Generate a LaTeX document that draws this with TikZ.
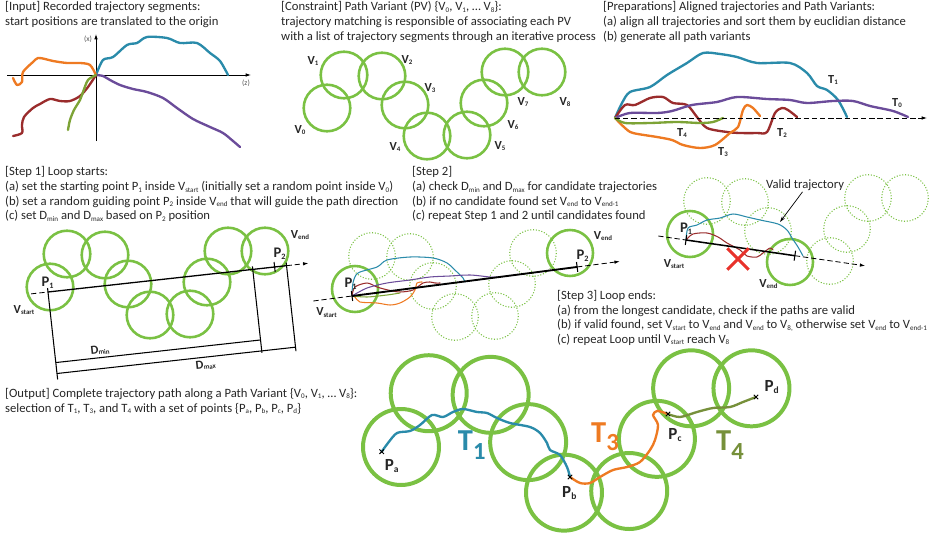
\documentclass[tikz,border=0pt]{standalone}
\usepackage{fontspec}
\setmainfont{Carlito}
\usetikzlibrary{arrows.meta,shapes.misc}
\definecolor{LabelInk}{HTML}{262626}
\definecolor{RingGreen}{HTML}{7AC143}
\definecolor{TrajTeal}{HTML}{2A8BAA}
\definecolor{TrajOrange}{HTML}{EE7A22}
\definecolor{TrajRed}{HTML}{9A2C2C}
\definecolor{TrajPurple}{HTML}{6B4C9A}
\definecolor{TrajGreen}{HTML}{7DA336}
\definecolor{TrajOlive}{HTML}{76903A}
\definecolor{CrossRed}{HTML}{E8322B}
\definecolor{AxisGrey}{HTML}{555555}
\makeatletter
\newcommand{\Lo}[1]{\raisebox{-0.25ex}{\fontsize{\fpeval{0.56*\f@size}}{1}\selectfont #1}}
\makeatother
\newcommand{\BigLo}[1]{\raisebox{-0.28em}{\fontsize{21}{21}\selectfont #1}}
% offsets of V0 ... V8 inside one path variant
\newcommand{\VariantShift}{0/0,17/-33,55/-32,78/-3,100/28,140/27,157/-5,178/-36,215/-36}
\tikzset{
  ring/.style={draw=RingGreen,line width=2.2pt},
  ghostring/.style={draw=RingGreen,line width=0.9pt,dash pattern=on 0.9pt off 1.5pt},
  bigring/.style={draw=RingGreen,line width=3.4pt},
  traj/.style={line width=2pt,line join=round,line cap=round},
  thintraj/.style={line width=0.9pt,line join=round,line cap=round},
  blurb/.style={anchor=north west,inner sep=0pt,align=left,font=\fontsize{10.8}{12.5}\selectfont},
  vlabel/.style={font=\bfseries\fontsize{10.5}{11}\selectfont,inner sep=0pt},
  plabel/.style={font=\bfseries\fontsize{12.5}{13}\selectfont,inner sep=0pt},
  outlabel/.style={font=\bfseries\fontsize{14.5}{15}\selectfont,inner sep=0pt},
  biglabel/.style={font=\bfseries\fontsize{26}{28}\selectfont,inner sep=0pt},
  axisline/.style={line width=0.7pt},
  guide/.style={line width=0.7pt,dash pattern=on 4.5pt off 2.5pt},
  tick/.style={line width=0.9pt},
  tip/.style={-{Latex[length=4.5pt,width=3pt]}},
  xmark/.style={cross out,draw=black,line width=0.8pt,minimum size=3pt,inner sep=0pt},
}

\begin{document}
\begin{tikzpicture}[x=0.03cm,y=-0.03cm,text=LabelInk]
\useasboundingbox (0,0) rectangle (929,534);

% [Input]
\node[blurb] (inputtxt) at (5,1.5)
  {[Input] Recorded trajectory segments:\\start positions are translated to the origin};
\coordinate (o) at (96,75);
\draw[axisline,tip] (7,75) -- (251,75);
\draw[axisline,tip] (96,141) -- (96,34);
\node[font=\fontsize{6.5}{7}\selectfont,text=AxisGrey] (xlab) at (88,39) {(x)};
\node[font=\fontsize{6.5}{7}\selectfont,text=AxisGrey] (zlab) at (246,83) {(z)};
\draw[traj,TrajTeal] plot[smooth,tension=0.5] coordinates
  {(o) (103,60) (113,57) (127,45) (137,43) (147,37) (167,38) (180,43) (197,43) (210,53) (220,61) (228,75)};
\draw[traj,TrajOrange] plot[smooth,tension=0.5] coordinates
  {(o) (90,65) (80,63) (67,63) (53,61) (45,59) (38,58) (33,62) (23,72) (22,82) (17,85) (13,78)};
\draw[traj,TrajPurple] plot[smooth,tension=0.5] coordinates
  {(o) (103,76) (110,80) (120,85) (133,89) (147,92) (163,98) (177,108) (193,119) (210,127) (223,133) (233,141) (240,147)};
\draw[traj,TrajRed] plot[smooth,tension=0.5] coordinates
  {(o) (88,87) (80,96) (70,101) (60,101) (50,99) (40,104) (33,108) (24,117) (22,125) (22,133) (13,136)};
\draw[traj,TrajGreen] plot[smooth,tension=0.5] coordinates
  {(o) (88,80) (83,92) (80,100) (74,110) (70,120) (68,130)};

% [Constraint]
\node[blurb] (constrainttxt) at (281,1.5)
  {[Constraint] Path Variant (PV) \{V\Lo{0}, V\Lo{1}, … V\Lo{8}\}:\\
   trajectory matching is responsible of associating each PV\\
   with a list of trajectory segments through an iterative process};
\begin{scope}[shift={(327,108)}]
  \foreach \dx/\dy [count=\i from 0] in \VariantShift
    \draw[ring] (\dx,\dy) coordinate (pv\i) circle (23.3);
\end{scope}
\node[vlabel] (pvl0) at (300,130) {V\Lo{0}};
\node[vlabel] (pvl1) at (313,61) {V\Lo{1}};
\node[vlabel] (pvl2) at (407,60) {V\Lo{2}};
\node[vlabel] (pvl3) at (430,88) {V\Lo{3}};
\node[vlabel] (pvl4) at (395,147) {V\Lo{4}};
\node[vlabel] (pvl5) at (500,146) {V\Lo{5}};
\node[vlabel] (pvl6) at (513,125) {V\Lo{6}};
\node[vlabel] (pvl7) at (523,102) {V\Lo{7}};
\node[vlabel] (pvl8) at (565,102) {V\Lo{8}};

% [Preparations]
\node[blurb] (preptxt) at (603,1.5)
  {[Preparations] Aligned trajectories and Path Variants:\\
   (a) align all trajectories and sort them by euclidian distance\\
   (b) generate all path variants};
\coordinate (prep0) at (615,118);
\draw[traj,TrajTeal] plot[smooth,tension=0.5] coordinates
  {(prep0) (622,103) (630,92) (650,87) (667,75) (687,63) (703,53) (720,54) (737,57) (757,63) (790,63) (807,73) (817,86) (827,90) (838,100) (847,117)};
\draw[traj,TrajRed] plot[smooth,tension=0.5] coordinates
  {(prep0) (625,105) (635,105) (650,98) (663,97) (673,103) (687,105) (697,117) (707,128) (727,132) (740,133) (757,133) (767,132) (775,113) (782,108) (788,110) (797,117)};
\draw[traj,TrajPurple] plot[smooth,tension=0.5] coordinates
  {(prep0) (630,113) (657,113) (672,111) (692,105) (717,102) (737,97) (767,99) (790,100) (807,103) (833,101) (853,101) (870,106) (893,111) (908,117)};
\draw[traj,TrajOrange] plot[smooth,tension=0.5] coordinates
  {(prep0) (625,128) (633,133) (657,137) (672,140) (683,145) (700,148) (715,145) (730,133) (738,127) (743,110) (747,105) (753,108) (760,116)};
\draw[traj,TrajGreen] plot[smooth,tension=0.5] coordinates
  {(prep0) (625,123) (650,123) (677,122) (700,123) (713,122) (723,118)};
\draw[guide,tip] (prep0) -- (927,118);
\node[vlabel] (prepl1) at (833,80) {T\Lo{1}};
\node[vlabel] (prepl0) at (897,103) {T\Lo{0}};
\node[vlabel] (prepl2) at (782,133) {T\Lo{2}};
\node[vlabel] (prepl3) at (723,152) {T\Lo{3}};
\node[vlabel] (prepl4) at (682,133) {T\Lo{4}};

% [Step 1]
\node[blurb] (stepatxt) at (5,166.5)
  {[Step 1] Loop starts:\\
   (a) set the starting point P\Lo{1} inside V\Lo{start} (initially set a random point inside V\Lo{0})\\
   (b) set a random guiding point P\Lo{2} inside V\Lo{end} that will guide the path direction\\
   (c) set D\Lo{min} and D\Lo{max} based on P\Lo{2} position};
\begin{scope}[shift={(50,287)}]
  \foreach \dx/\dy [count=\i from 0] in \VariantShift
    \draw[ring] (\dx,\dy) coordinate (sa\i) circle (23.3);
\end{scope}
\begin{scope}[shift={(48,292)},rotate=6.3]
  \coordinate (s1p1) at (0,0);
  \coordinate (s1p2) at (228,0);
  \coordinate (s1min) at (206,0);
  \coordinate (s1max) at (240,0);
  \draw[guide] (-17,0) -- (s1p1);
  \draw[line width=1.1pt] (s1p1) -- (s1max);
  \draw[guide,tip] (s1max) -- (262,0);
  \draw[tick] (0,-4) -- (0,88);
  \draw[tick] (228,-5) -- (228,5);
  \draw[tick] (206,-3) -- (206,84);
  \draw[tick] (240,-3) -- (240,86);
  \draw[tick] (0,71) -- node[vlabel,pos=0.22,above=2pt,transform shape] (dminlab) {D\Lo{min}} (206,71);
  \draw[tick] (0,82) -- node[vlabel,pos=0.62,below=2pt,transform shape] (dmaxlab) {D\Lo{max}} (240,82);
\end{scope}
\node[plabel] (s1p1lab) at (47.5,283) {P\Lo{1}};
\node[plabel] (s1p2lab) at (279.5,254) {P\Lo{2}};
\node[vlabel] (s1vend) at (300,235) {V\Lo{end}};
\node[vlabel] (s1vstart) at (24,310) {V\Lo{start}};

% [Step 2]
\node[blurb] (stepbtxt) at (412,166.5)
  {[Step 2]\\
   (a) check D\Lo{min} and D\Lo{max} for candidate trajectories\\
   (b) if no candidate found set V\Lo{end} to V\Lo{end-1}\\
   (c) repeat Step 1 and 2 until candidates found};
\begin{scope}[shift={(355,289)}]
  \foreach \dx/\dy [count=\i from 0] in \VariantShift
    \coordinate (sb\i) at (\dx,\dy);
\end{scope}
\foreach \i in {1,...,7} \draw[ghostring] (sb\i) circle (23.3);
\draw[ring] (sb0) circle (23);
\draw[ring] (sb8) circle (23);
\coordinate (s2p1) at (352,296);
\draw[thintraj,TrajTeal] plot[smooth,tension=0.5] coordinates
  {(s2p1) (353,283) (358,273) (377,267) (387,260) (410,257) (433,258) (447,263) (457,272) (463,278) (465,282)};
\draw[thintraj,TrajRed] plot[smooth,tension=0.5] coordinates
  {(s2p1) (355,287) (367,283) (377,287) (388,290) (400,292) (413,290) (423,283) (430,282) (435,283) (440,283)};
\draw[thintraj,TrajPurple] plot[smooth,tension=0.5] coordinates
  {(s2p1) (367,288) (387,283) (410,280) (430,277) (450,276) (470,275) (490,277) (497,277)};
\draw[thintraj,TrajOrange] plot[smooth,tension=0.5] coordinates
  {(s2p1) (355,297) (360,302) (377,303) (390,305) (400,303) (410,297) (415,290) (417,283) (422,282)};
\draw[thintraj,TrajGreen] plot[smooth,tension=0.5] coordinates
  {(s2p1) (367,297) (387,295) (400,293)};
\begin{scope}[shift={(s2p1)},rotate=7.35]
  \coordinate (s2p2) at (227,0);
  \draw[guide] (-39,0) -- (s2p1);
  \draw[line width=1.6pt] (s2p1) -- (s2p2);
  \draw[guide,tip] (s2p2) -- (270,0);
  \draw[tick] (0,-5) -- (0,5);
  \draw[tick] (227,-5) -- (227,5);
\end{scope}
\node[plabel] (s2p1lab) at (350.5,284) {P\Lo{1}};
\node[plabel] (s2p2lab) at (582.5,256) {P\Lo{2}};
\node[vlabel] (s2vend) at (603,236) {V\Lo{end}};
\node[vlabel] (s2vstart) at (326.5,312.5) {V\Lo{start}};

% [Step 3]
\node[blurb] (stepctxt) at (557,290)
  {[Step 3] Loop ends:\\
   (a) from the longest candidate, check if the paths are valid\\
   (b) if valid found, set V\Lo{start} to V\Lo{end} and V\Lo{end} to V\Lo{8,} otherwise set V\Lo{end} to V\Lo{end-1}\\
   (c) repeat Loop until V\Lo{start} reach V\Lo{8}};
\begin{scope}[shift={(690,234)}]
  \foreach \dx/\dy [count=\i from 0] in \VariantShift
    \coordinate (sc\i) at (\dx,\dy);
\end{scope}
\foreach \i in {1,2,3,5,6,7,8} \draw[ghostring] (sc\i) circle (23.3);
\draw[ring] (sc0) circle (23);
\draw[ring] (sc4) circle (23);
\coordinate (s3p1) at (686,240);
\draw[thintraj,TrajTeal] plot[smooth,tension=0.5] coordinates
  {(s3p1) (688,228) (697,225) (707,220) (720,218) (733,214) (747,217) (760,220) (778,224) (787,230) (792,238) (798,247) (803,256)};
\draw[thintraj,TrajRed] plot[smooth,tension=0.5] coordinates
  {(s3p1) (693,234) (707,233) (718,237) (727,243) (740,250) (747,256) (757,257) (763,253) (770,248) (773,250)};
\begin{scope}[shift={(s3p1)},rotate=-8.2]
  \coordinate (s3end) at (110,0);
  \draw[guide] (-28,0) -- (s3p1);
  \draw[line width=1.3pt] (s3p1) -- (s3end);
  \draw[guide,tip] (s3end) -- (181,0);
  \draw[tick] (0,-5) -- (0,5);
  \draw[tick] (110,-5) -- (110,5);
\end{scope}
\node[cross out,draw=CrossRed,line width=2.6pt,minimum size=0.55cm,inner sep=0pt] (badcross) at (738,259) {};
\node[font=\fontsize{10.8}{12}\selectfont,inner sep=1pt] (valid) at (805,185) {Valid trajectory};
\coordinate (validtip) at (780,222);
\draw[line width=0.6pt,-{Stealth[length=5pt,width=3pt]}] (valid.250) -- (validtip);
\node[plabel] (s3p1lab) at (686,228.5) {P\Lo{1}};
\node[vlabel] (s3vstart) at (674,264) {V\Lo{start}};
\node[vlabel] (s3vend) at (768.5,284) {V\Lo{end}};

% [Output]
\node[blurb] (outputtxt) at (5,388)
  {[Output] Complete trajectory path along a Path Variant \{V\Lo{0}, V\Lo{1}, … V\Lo{8}\}:\\
   selection of T\Lo{1}, T\Lo{3}, and T\Lo{4} with a set of points \{P\Lo{a}, P\Lo{b}, P\Lo{c}, P\Lo{d}\}};
\begin{scope}[shift={(401,447)},scale=1.63]
  \foreach \dx/\dy [count=\i from 0] in \VariantShift
    \coordinate (out\i) at (\dx,\dy);
\end{scope}
\foreach \i in {0,...,8} \draw[bigring] (out\i) circle (38);
\coordinate (pa) at (381.7,451.7);
\coordinate (pb) at (570,477);
\coordinate (pc) at (668,414);
\coordinate (pd) at (756,397);
\draw[traj,TrajTeal] plot[smooth,tension=0.5] coordinates
  {(pa) (388,443) (397,433) (410,431) (420,425) (432,415) (443,417) (453,412) (463,409) (477,412) (487,413) (497,418) (510,423) (530,427) (540,433) (547,443) (550,450) (560,455) (567,467) (pb)};
\draw[traj,TrajOrange] plot[smooth,tension=0.5] coordinates
  {(pb) (580,483) (590,483) (600,477) (613,470) (627,467) (640,462) (650,450) (655,440) (658,425) (653,415) (657,411) (662,412) (pc)};
\draw[traj,TrajOlive] plot[smooth,tension=0.5] coordinates
  {(pc) (680,417) (697,412) (713,408) (730,407) (743,402) (pd)};
\node[xmark] (pamark) at (pa) {};
\node[xmark] (pbmark) at (pb) {};
\node[xmark] (pcmark) at (pc) {};
\node[xmark] (pdmark) at (pd) {};
\node[outlabel] (palab) at (391.7,466) {P\Lo{a}};
\node[outlabel] (pblab) at (569.3,493.3) {P\Lo{b}};
\node[outlabel] (pclab) at (675,435) {P\Lo{c}};
\node[outlabel] (pdlab) at (771.7,386.7) {P\Lo{d}};
\node[biglabel,text=TrajTeal] (t1lab) at (471.7,445) {T\BigLo{1}};
\node[biglabel,text=TrajOrange] (t3lab) at (605,436.7) {T\BigLo{3}};
\node[biglabel,text=TrajOlive] (t4lab) at (730,445) {T\BigLo{4}};
\end{tikzpicture}
\end{document}
